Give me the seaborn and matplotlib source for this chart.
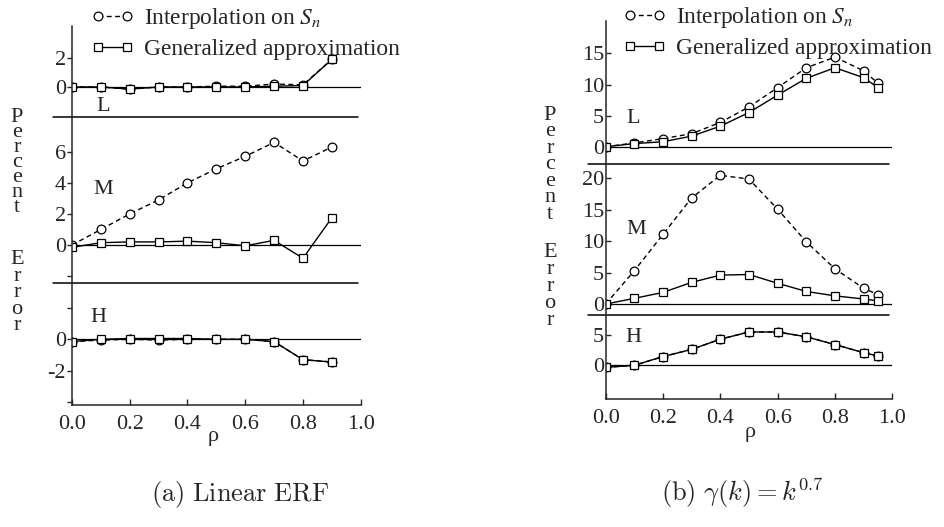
import numpy as np
import pandas as pd
import matplotlib
matplotlib.use("Agg")
import matplotlib.pyplot as plt
import seaborn as sns
from matplotlib.lines import Line2D

# ---------------- data ----------------
INTERP = "Interpolation on $S_n$"
GEN = "Generalized approximation"

rho_a = [0.0, 0.1, 0.2, 0.3, 0.4, 0.5, 0.6, 0.7, 0.8, 0.9]
a_L_interp = [0.0, 0.0, -0.15, 0.0, 0.0, 0.05, 0.05, 0.2, 0.15, 1.9]
a_L_gen = [0.0, 0.0, -0.15, 0.0, 0.0, 0.0, 0.0, 0.05, 0.1, 1.9]
a_M_interp = [0.0, 1.0, 2.0, 2.9, 4.0, 4.9, 5.7, 6.6, 5.4, 6.3]
a_M_gen = [-0.15, 0.15, 0.2, 0.2, 0.25, 0.15, -0.05, 0.3, -0.85, 1.75]
a_H_interp = [-0.15, -0.05, 0.0, -0.05, 0.0, 0.0, 0.0, -0.15, -1.3, -1.45]
a_H_gen = [-0.15, 0.0, 0.05, 0.05, 0.05, 0.0, 0.0, -0.15, -1.3, -1.45]

rho_b = [0.0, 0.1, 0.2, 0.3, 0.4, 0.5, 0.6, 0.7, 0.8, 0.9, 0.95]
b_L_interp = [0.0, 0.6, 1.3, 2.1, 3.9, 6.4, 9.5, 12.7, 14.4, 12.2, 10.2]
b_L_gen = [0.0, 0.5, 0.8, 1.7, 3.3, 5.5, 8.3, 11.0, 12.7, 11.1, 9.5]
b_M_interp = [0.0, 5.3, 11.1, 16.9, 20.5, 19.9, 15.1, 9.9, 5.6, 2.5, 1.5]
b_M_gen = [0.0, 0.9, 1.85, 3.45, 4.6, 4.7, 3.3, 2.0, 1.3, 0.8, 0.5]
b_H_interp = [-0.4, -0.05, 1.4, 2.6, 4.3, 5.5, 5.5, 4.7, 3.4, 2.05, 1.5]
b_H_gen = [-0.4, -0.05, 1.4, 2.6, 4.3, 5.5, 5.5, 4.7, 3.4, 2.05, 1.5]

x_ticks = [0.0, 0.2, 0.4, 0.6, 0.8, 1.0]
x_ticklabels = ["0.0", "0.2", "0.4", "0.6", "0.8", "1.0"]
ylabel_words = ["Percent", "Error"]
caption_a = r"$\mathrm{(a)\ Linear\ ERF}$"
caption_b = r"$\mathrm{(b)}\ \gamma(k) = k^{0.7}$"

# ---------------- style ----------------
sns.set_style("ticks")
plt.rcParams["font.family"] = ["Liberation Serif", "DejaVu Serif"]
plt.rcParams["mathtext.fontset"] = "stix"

W, H = 944, 527
fig = plt.figure(figsize=(W / 100, H / 100), dpi=100)


def fx(px):
    return px / W


def fy(py):
    return 1 - py / H


def draw_panel(x0, x1, rows, rho, tickdir, tickpad):
    axes = []
    for i, r in enumerate(rows):
        top, bot = r["top"], r["bot"]
        ax = fig.add_axes([fx(x0), fy(bot), fx(x1 - x0), (bot - top) / H])
        df = pd.DataFrame({
            "rho": list(rho) * 2,
            "err": list(r["interp"]) + list(r["gen"]),
            "method": [INTERP] * len(rho) + [GEN] * len(rho),
        })
        sns.lineplot(data=df, x="rho", y="err", style="method",
                     style_order=[INTERP, GEN],
                     markers={INTERP: "o", GEN: "s"},
                     dashes={INTERP: (3.5, 2.5), GEN: ""},
                     color="black", markersize=6.3, markeredgecolor="black",
                     markerfacecolor="white", markeredgewidth=0.9,
                     linewidth=1.0, errorbar=None, legend=False, ax=ax)
        ax.set_xlim(0, 1)
        ax.set_ylim(*r["ylim"])
        ax.axhline(0, color="black", lw=0.9, zorder=1)
        for s in ["top", "right"]:
            ax.spines[s].set_visible(False)
        ax.spines["left"].set_linewidth(1.1)
        ax.set_yticks(r["yticks"])
        ax.set_yticklabels(r["ylabels"])
        ax.tick_params(axis="y", direction=tickdir, length=3.5, width=1,
                       pad=tickpad, labelsize=16)
        ax.set_xlabel("")
        ax.set_ylabel("")
        last = i == len(rows) - 1
        if last:
            ax.spines["bottom"].set_linewidth(1.1)
            ax.set_xticks(x_ticks)
            ax.set_xticklabels(x_ticklabels)
            ax.tick_params(axis="x", direction="in", length=4, width=1,
                           pad=7, labelsize=16)
        else:
            ax.spines["bottom"].set_visible(False)
            ax.tick_params(axis="x", bottom=False, labelbottom=False)
            ax.plot([r["sep0"], r["sep1"]], [0, 0], transform=ax.transAxes,
                    clip_on=False, color="black", lw=1.1)
        ax.text(r["lx"], r["ly"], r["letter"], fontsize=16, ha="center",
                va="center")
        ax.set_facecolor("none")
        axes.append(ax)
    return axes


rows_a = [
    dict(top=26, bot=117, ylim=(-2.07, 4.2), yticks=[0, 2], ylabels=["0", "2"],
         interp=a_L_interp, gen=a_L_gen, letter="L", lx=0.107, ly=-1.35,
         sep0=-0.066, sep1=0.99),
    dict(top=117, bot=283.3, ylim=(-2.46, 8.23), yticks=[-2, 0, 2, 4, 6],
         ylabels=["", "0", "2", "4", "6"],
         interp=a_M_interp, gen=a_M_gen, letter="M", lx=0.107, ly=3.54,
         sep0=-0.066, sep1=0.99),
    dict(top=283.3, bot=405, ylim=(-4.19, 3.57), yticks=[-4, -2, 0, 2],
         ylabels=["", "-2", "0", ""],
         interp=a_H_interp, gen=a_H_gen, letter="H", lx=0.09, ly=1.42),
]
rows_b = [
    dict(top=20.7, bot=164, ylim=(-2.78, 20.26), yticks=[0, 5, 10, 15],
         ylabels=["0", "5", "10", "15"],
         interp=b_L_interp, gen=b_L_gen, letter="L", lx=0.095, ly=4.6,
         sep0=-0.062, sep1=0.988),
    dict(top=164, bot=315, ylim=(-1.75, 22.3), yticks=[0, 5, 10, 15, 20],
         ylabels=["0", "5", "10", "15", "20"],
         interp=b_M_interp, gen=b_M_gen, letter="M", lx=0.105, ly=11.8,
         sep0=-0.062, sep1=0.988),
    dict(top=315, bot=399, ylim=(-5.67, 8.33), yticks=[0, 5],
         ylabels=["0", "5"],
         interp=b_H_interp, gen=b_H_gen, letter="H", lx=0.095, ly=4.5),
]

draw_panel(72, 360.7, rows_a, rho_a, "out", 1)
draw_panel(605.7, 892.3, rows_b, rho_b, "in", 1)

# vertical "Percent Error" labels (one stacked text per word)
for xpx, (y1, ls1), (y2, ls2) in [(17, (108, 0.72), (250, 0.83)),
                                   (550, (106, 0.82), (243, 0.86))]:
    fig.text(fx(xpx), fy(y1), "\n".join(ylabel_words[0]), fontsize=16,
             ha="center", va="top", multialignment="center", linespacing=ls1)
    fig.text(fx(xpx), fy(y2), "\n".join(ylabel_words[1]), fontsize=16,
             ha="center", va="top", multialignment="center", linespacing=ls2)

# rho labels
fig.text(fx(213), fy(436), "ρ", fontsize=16, ha="center", va="center")
fig.text(fx(750), fy(433), "ρ", fontsize=16, ha="center", va="center")

# legends
handles = [
    Line2D([], [], color="black", lw=1.0, dashes=(3.5, 2.5), marker="o", ms=6.3,
           mfc="white", mec="black", mew=0.9),
    Line2D([], [], color="black", lw=1.0, marker="s", ms=6.3, mfc="white",
           mec="black", mew=0.9),
]
for xpx, ypx in [(91, 33), (623, 32)]:
    fig.legend(handles, [INTERP, GEN], loc="center left",
               bbox_to_anchor=(fx(xpx), fy(ypx)), frameon=False, numpoints=2,
               handlelength=1.86, handletextpad=0.4, labelspacing=0.35,
               borderpad=0, borderaxespad=0, fontsize=16.8)

# captions
fig.text(fx(240), fy(495), caption_a, fontsize=19, ha="center", va="center",
         math_fontfamily="cm")
fig.text(fx(742), fy(493), caption_b, fontsize=19, ha="center", va="center",
         math_fontfamily="cm")

fig.savefig("out.png", dpi=100)
